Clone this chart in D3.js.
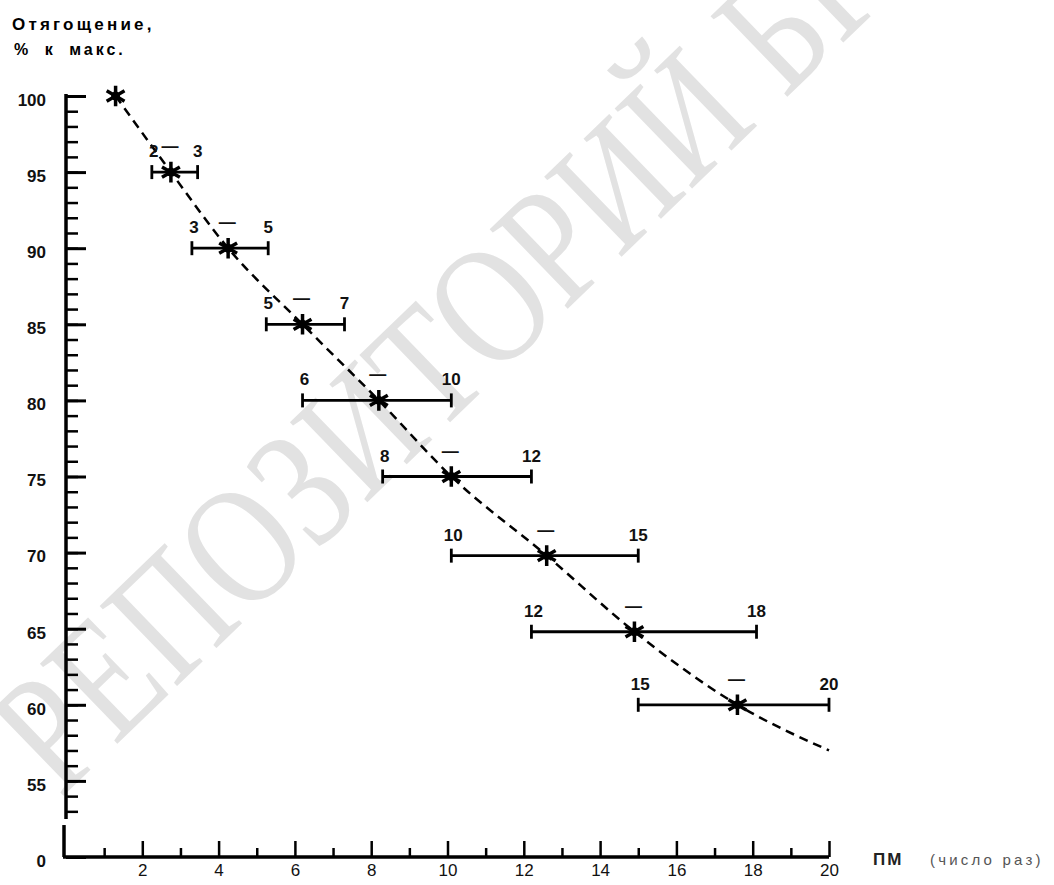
<!DOCTYPE html>
<html>
<head>
<meta charset="utf-8">
<script src="https://cdn.jsdelivr.net/npm/d3@7"></script>
<style>
    body { margin: 0; background: #fff; }
    text { font-family: "Liberation Sans", Arial, sans-serif; }
</style>
</head>
<body>
<div id="chart"></div>
<script>
// measured points (load as % of max vs repetitions)
const repsMid = [1.3, 2.75, 4.25, 6.2, 8.2, 10.1, 12.6, 14.9, 17.6];
const loadPct = [100, 95, 90, 85, 80, 75, 69.8, 64.8, 60];
const repsLow = [null, 2.25, 3.3, 5.25, 6.2, 8.3, 10.1, 12.2, 15.0];
const repsHigh = [null, 3.45, 5.3, 7.3, 10.1, 12.2, 15.0, 18.1, 20.0];
const lowLabels = ["", "2", "3", "5", "6", "8", "10", "12", "15"];
const highLabels = ["", "3", "5", "7", "10", "12", "15", "18", "20"];
// end of dashed trend line
const trendEnd = [20, 57.0];

const xMajorTicks = [2, 4, 6, 8, 10, 12, 14, 16, 18, 20];
const xMinorTicks = [1, 3, 5, 7, 9, 11, 13, 15, 17, 19];
const yMajorTicks = [50, 55, 60, 65, 70, 75, 80, 85, 90, 95, 100];
const yMinorTicks = d3.range(53, 101);

class LoadChart {
    constructor() {
        this.initVis();
    }

    initVis() {
        let vis = this;

        vis.margin = {top: 96, right: 225, bottom: 28, left: 66};
        vis.width = 1054 - vis.margin.left - vis.margin.right;
        vis.height = 885 - vis.margin.top - vis.margin.bottom;

        let root = d3.select("#chart")
            .append("svg")
            .attr("width", 1054)
            .attr("height", 885);

        // watermark (condensed serif)
        root.append("text")
            .attr("transform", "translate(60,799) rotate(-44) scale(0.8,1)")
            .style("font-family", "'Liberation Serif', 'DejaVu Serif', serif")
            .attr("font-size", 170)
            .attr("fill", "#e2e2e2")
            .text("РЕПОЗИТОРИЙ БГУ");

        vis.svg = root.append("g")
            .attr("transform", "translate(" + vis.margin.left + "," + vis.margin.top + ")");

        const x = d3.scaleLinear().domain([0, 20]).range([0, vis.width]);
        const y = d3.scaleLinear().domain([50, 100]).range([vis.height, 0]);

        // y axis minor ticks
        vis.svg.append("g")
            .call(d3.axisLeft(y).tickValues(yMinorTicks).tickSize(-12).tickFormat(""))
            .call(g => g.select(".domain").remove())
            .selectAll("line").attr("stroke-width", 2.5);

        // y axis major ticks + labels
        vis.svg.append("g")
            .call(d3.axisLeft(y).tickValues(yMajorTicks).tickSize(-20).tickPadding(20)
                .tickFormat(d => d === 50 ? "0" : d))
            .call(g => g.select(".domain").remove())
            .call(g => g.selectAll("line").attr("stroke-width", 3))
            .call(g => g.selectAll("text")
                .attr("font-size", 17)
                .attr("font-weight", "bold")
                .attr("dy", "0.55em")
                .attr("fill", "#111"));

        // broken y axis line
        vis.svg.append("line")
            .attr("x1", 0).attr("x2", 0)
            .attr("y1", y(100) - 2).attr("y2", y(52.5))
            .attr("stroke", "black").attr("stroke-width", 3.5);
        vis.svg.append("line")
            .attr("x1", -2).attr("x2", -2)
            .attr("y1", y(52.1)).attr("y2", y(50))
            .attr("stroke", "black").attr("stroke-width", 3.5);

        // x axis
        vis.svg.append("g")
            .attr("transform", `translate(0, ${vis.height})`)
            .call(d3.axisBottom(x).tickValues(xMinorTicks).tickSize(-9).tickFormat(""))
            .call(g => g.select(".domain").remove())
            .selectAll("line").attr("stroke-width", 2.5);

        vis.svg.append("g")
            .attr("transform", `translate(0, ${vis.height})`)
            .call(d3.axisBottom(x).tickValues(xMajorTicks).tickSize(-16).tickPadding(7))
            .call(g => g.select(".domain").remove())
            .call(g => g.selectAll("line").attr("stroke-width", 2.5))
            .call(g => g.selectAll("text").attr("font-size", 17).attr("fill", "#111"));

        vis.svg.append("line")
            .attr("x1", x(0) - 3).attr("x2", x(20))
            .attr("y1", vis.height).attr("y2", vis.height)
            .attr("stroke", "black").attr("stroke-width", 3.5);

        // dashed trend line through the points
        let trend = repsMid.map((d, i) => [d, loadPct[i]]).concat([trendEnd]);
        vis.svg.append("path")
            .datum(trend)
            .attr("fill", "none")
            .attr("stroke", "black")
            .attr("stroke-width", 2.5)
            .attr("stroke-dasharray", "9 6")
            .attr("d", d3.line().x(d => x(d[0])).y(d => y(d[1])).curve(d3.curveMonotoneX));

        let rows = repsMid.map((d, i) => ({
            mid: d, load: loadPct[i], lo: repsLow[i], hi: repsHigh[i],
            loLab: lowLabels[i], hiLab: highLabels[i]
        }));
        let ranged = rows.filter(d => d.lo !== null);

        // range bars
        let bars = vis.svg.append("g").attr("stroke", "black").attr("stroke-width", 2.8);
        bars.selectAll(".bar")
            .data(ranged)
            .join("line")
            .attr("x1", d => x(d.lo)).attr("x2", d => x(d.hi))
            .attr("y1", d => y(d.load)).attr("y2", d => y(d.load));
        bars.selectAll(".capl")
            .data(ranged)
            .join("line")
            .attr("x1", d => x(d.lo)).attr("x2", d => x(d.lo))
            .attr("y1", d => y(d.load) - 7).attr("y2", d => y(d.load) + 7);
        bars.selectAll(".caph")
            .data(ranged)
            .join("line")
            .attr("x1", d => x(d.hi)).attr("x2", d => x(d.hi))
            .attr("y1", d => y(d.load) - 7).attr("y2", d => y(d.load) + 7);

        // range labels "lo — hi"
        let labs = vis.svg.append("g")
            .attr("font-size", 17)
            .attr("fill", "#111")
            .attr("text-anchor", "middle");
        labs.selectAll(".lo")
            .data(ranged)
            .join("text")
            .attr("x", d => x(d.lo) + 2)
            .attr("y", d => y(d.load) - 15)
            .attr("font-weight", "bold")
            .text(d => d.loLab);
        labs.selectAll(".hi")
            .data(ranged)
            .join("text")
            .attr("x", d => x(d.hi))
            .attr("y", d => y(d.load) - 15)
            .attr("font-weight", "bold")
            .text(d => d.hiLab);
        labs.selectAll(".dash")
            .data(ranged)
            .join("text")
            .attr("x", d => x(d.mid) - 1)
            .attr("y", d => y(d.load) - 20)
            .attr("font-weight", "bold")
            .text("—");

        // star markers
        vis.svg.append("g")
            .selectAll("path")
            .data(rows)
            .join("path")
            .attr("transform", d => `translate(${x(d.mid)},${y(d.load)})`)
            .attr("d", d3.symbol().type(d3.symbolAsterisk).size(300))
            .attr("fill", "none")
            .attr("stroke", "black")
            .attr("stroke-width", 3.5);
        vis.svg.append("g")
            .selectAll("circle")
            .data(rows)
            .join("circle")
            .attr("cx", d => x(d.mid))
            .attr("cy", d => y(d.load))
            .attr("r", 4.5)
            .attr("fill", "black");

        // axis titles
        root.append("text")
            .attr("x", 12).attr("y", 30)
            .attr("font-size", 17)
            .attr("font-weight", "bold")
            .attr("letter-spacing", 3.2)
            .text("Отягощение,");
        root.append("text")
            .attr("x", 14).attr("y", 55)
            .attr("font-size", 16)
            .attr("font-weight", "bold")
            .attr("letter-spacing", 3)
            .attr("word-spacing", 6)
            .text("% к макс.");

        root.append("text")
            .attr("x", 873).attr("y", 865)
            .attr("font-size", 17)
            .attr("font-weight", "bold")
            .attr("letter-spacing", 2)
            .attr("fill", "#222")
            .text("ПМ");
        root.append("text")
            .attr("x", 930).attr("y", 865)
            .attr("font-size", 15)
            .attr("letter-spacing", 3.2)
            .attr("fill", "#555")
            .text("(число раз)");
    }
}

new LoadChart();
</script>
</body>
</html>
